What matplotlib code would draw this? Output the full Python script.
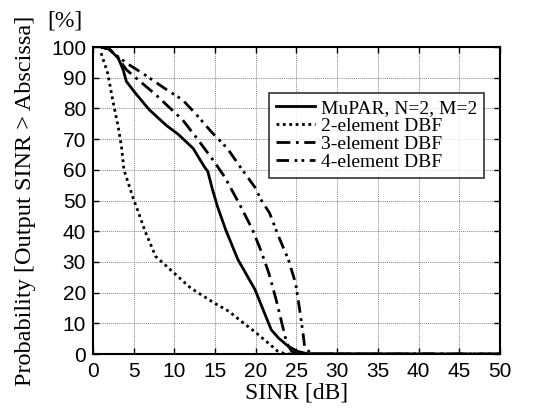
import numpy as np
import matplotlib
matplotlib.use("Agg")
import matplotlib.pyplot as plt

### data

mupar_x = [1, 2, 3.1, 3.7, 4.1, 5.2, 6.9, 9.0, 10.5, 12.3, 13.7, 14.1, 14.7, 15.3, 16.3, 17.8, 19.9, 21.9, 22.8, 24.0, 25.1, 26.3, 50]
mupar_y = [100, 99.3, 96.4, 92.6, 88.8, 85, 79.6, 74.5, 71.5, 67, 60.9, 59.5, 53.4, 48, 40.5, 30.8, 21, 7.9, 5.2, 2.5, 0.9, 0.1, 0]

dbf2_x = [1, 1.8, 2.5, 3.1, 3.5, 3.8, 5.0, 5.6, 6.4, 7.7, 9.7, 12.0, 13.6, 14.9, 16.7, 18.2, 19.8, 21.3, 22.7, 23.7, 25]
dbf2_y = [98, 91.5, 81.7, 74, 67.6, 60, 50.3, 46, 40, 31.8, 27, 21.5, 18.8, 16.6, 13.9, 10.7, 7.4, 4.1, 0.9, 0, 0]

dbf3_x = [1, 2, 3.1, 4.1, 6.0, 7.7, 9.5, 11.0, 12.7, 14.8, 16.2, 18.1, 19.6, 20.6, 21.6, 22.5, 23.2, 23.8, 24.4, 25.1, 50]
dbf3_y = [100, 99.3, 96.4, 92.6, 88.3, 84.5, 80, 76.3, 70.5, 63, 57.6, 48.3, 40.5, 33.9, 26.4, 17.7, 10.1, 3.6, 0.9, 0, 0]

dbf4_x = [1, 2, 3.0, 4.1, 6.4, 9.1, 11.0, 12.7, 14.5, 16.5, 18.1, 19.9, 20.7, 21.7, 22.8, 24.0, 24.9, 25.4, 25.8, 26.0, 26.5, 26.9, 50]
dbf4_y = [100, 99.3, 97, 94.8, 90.9, 86, 82.8, 78, 72.5, 67, 60.9, 54.3, 50, 45.9, 38.3, 30.8, 23, 14.3, 6.8, 2.5, 0.9, 0, 0]

labels = ["MuPAR, N=2, M=2", "2-element DBF", "3-element DBF", "4-element DBF"]

serif = "Liberation Serif"
sans = "Liberation Sans"

fig = plt.figure(figsize=(5.47, 4.16), dpi=100)
ax = fig.add_axes([0.170, 0.149, 0.744, 0.738])

ax.plot(mupar_x, mupar_y, color="black", lw=2, linestyle="-", label=labels[0])
ax.plot(dbf2_x, dbf2_y, color="black", lw=2, linestyle=(0, (1, 1.3)), label=labels[1])
ax.plot(dbf3_x, dbf3_y, color="black", lw=2, linestyle=(0, (5, 2, 1, 2)), label=labels[2])
ax.plot(dbf4_x, dbf4_y, color="black", lw=2, linestyle=(0, (4.5, 2, 1, 1.5, 1, 2)), label=labels[3])

ax.set_xlim(0, 50)
ax.set_ylim(0, 100)
ax.set_xticks(np.arange(0, 51, 5))
ax.set_yticks(np.arange(0, 101, 10))
ax.grid(True, color="#888888", linestyle=(0, (1, 1)), lw=0.7)
ax.tick_params(direction="in", top=True, right=True, length=4, width=1, labelsize=15)
ax.tick_params(axis="x", pad=6)
ax.tick_params(axis="y", pad=5)
for lab in ax.get_xticklabels() + ax.get_yticklabels():
    lab.set_fontfamily(sans)
for sp in ax.spines.values():
    sp.set_linewidth(1.5)

ax.set_xlabel("SINR [dB]", fontsize=17, family=serif, labelpad=1)
ax.set_ylabel("Probability [Output SINR > Abscissa]", fontsize=17.5, family=serif, labelpad=11)
fig.text(0.118, 0.950, "[%]", fontsize=17, family=serif, ha="center", va="center")

leg = ax.legend(loc="lower right", bbox_to_anchor=(0.962, 0.573), prop={"family": serif, "size": 14},
                frameon=True, fancybox=False, edgecolor="black", handlelength=2.0,
                borderpad=0.35, labelspacing=0.02, handletextpad=0.35, borderaxespad=0)
leg.get_frame().set_linewidth(1.2)

fig.savefig("out.png", dpi=100)
